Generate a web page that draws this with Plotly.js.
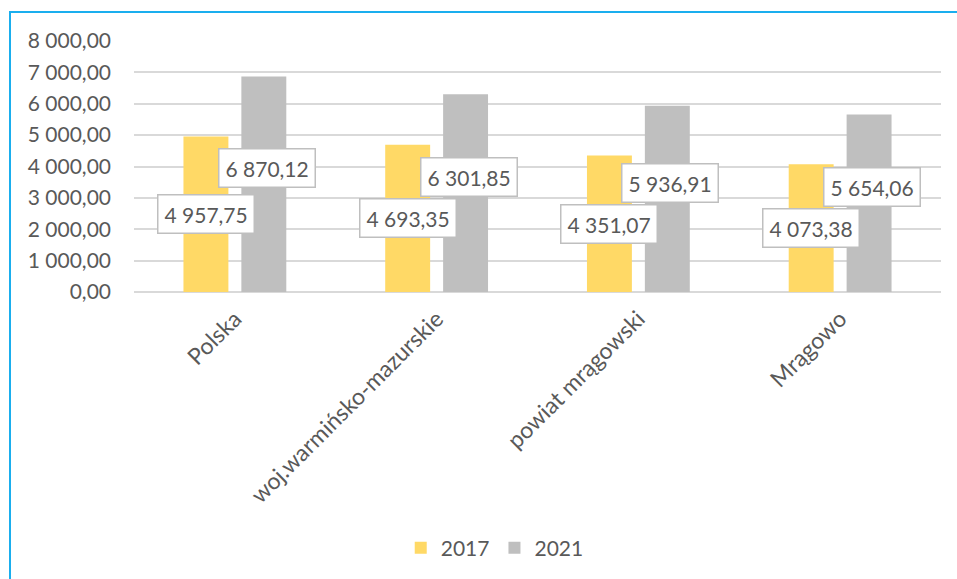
<!DOCTYPE html>
<html>
<head>
<meta charset="utf-8">
<script src="https://cdn.plot.ly/plotly-3.0.1.min.js"></script>
<style>
html,body{margin:0;padding:0;background:#fff;}
#frame{position:absolute;left:9px;top:11px;width:1000px;height:600px;border-top:2px solid #1AAEEE;border-left:2px solid #1AAEEE;pointer-events:none;z-index:5;}
#chart{position:absolute;left:0;top:0;width:957px;height:579px;}
</style>
</head>
<body>
<div id="chart"></div>
<div id="frame"></div>
<script>
const categories = ["Polska", "woj.warmińsko-mazurskie", "powiat mrągowski", "Mrągowo"];
const values2017 = [4957.75, 4693.35, 4351.07, 4073.38];
const values2021 = [6870.12, 6301.85, 5936.91, 5654.06];
const seriesNames = ["2017", "2021"];
const yTicks = [0, 1000, 2000, 3000, 4000, 5000, 6000, 7000, 8000];

function fmt(v){
  const parts = v.toFixed(2).split(".");
  const intPart = parts[0].replace(/\B(?=(\d{3})+(?!\d))/g, " ");
  return intPart + "," + parts[1];
}

const FONT = "Lato, 'Open Sans', sans-serif";
const TXT = "#595959";

const traces = [
  {type:"bar", name:seriesNames[0], x:categories, y:values2017, marker:{color:"#FFD966"}, hoverinfo:"none"},
  {type:"bar", name:seriesNames[1], x:categories, y:values2021, marker:{color:"#BFBFBF"}, hoverinfo:"none"}
];

const annotations = [];
categories.forEach((c,i)=>{
  annotations.push({x:c, y:values2017[i]/2, xref:"x", yref:"y", text:fmt(values2017[i]), showarrow:false,
    xshift:-29, yshift:0, bgcolor:"#FFFFFF", bordercolor:"#BFBFBF", borderwidth:1.5, borderpad:6,
    font:{family:FONT, size:21, color:TXT}});
  annotations.push({x:c, y:values2021[i]/2, xref:"x", yref:"y", text:fmt(values2021[i]), showarrow:false,
    xshift:32, yshift:16, bgcolor:"#FFFFFF", bordercolor:"#BFBFBF", borderwidth:1.5, borderpad:6,
    font:{family:FONT, size:21, color:TXT}});
});

const layout = {
  width:957, height:579,
  margin:{l:134, r:16, t:41, b:286},
  paper_bgcolor:"#FFFFFF", plot_bgcolor:"#FFFFFF",
  separators:", ",
  barmode:"group", bargap:0.426, bargroupgap:0.224,
  font:{family:FONT, size:21, color:TXT},
  showlegend:true,
  legend:{orientation:"h", x:0.447, xanchor:"center", y:-1.012, yanchor:"middle",
    font:{family:FONT, size:21, color:TXT}, itemwidth:30, traceorder:"normal"},
  xaxis:{type:"category", tickangle:-45, ticks:"", showgrid:false, zeroline:false,
    showline:false, ticklabelstandoff:8, tickfont:{family:FONT, size:23, color:TXT}},
  yaxis:{range:[0,8000], tickvals:yTicks, tickformat:",.2f", showgrid:true, gridcolor:"#D9D9D9", gridwidth:2,
    zeroline:true, zerolinecolor:"#D9D9D9", zerolinewidth:2, showline:false, ticks:"",
    ticklabelstandoff:22, tickfont:{family:FONT, size:21, color:TXT}},
  annotations:annotations
};

Plotly.newPlot("chart", traces, layout, {staticPlot:true, displayModeBar:false});
</script>
</body>
</html>
